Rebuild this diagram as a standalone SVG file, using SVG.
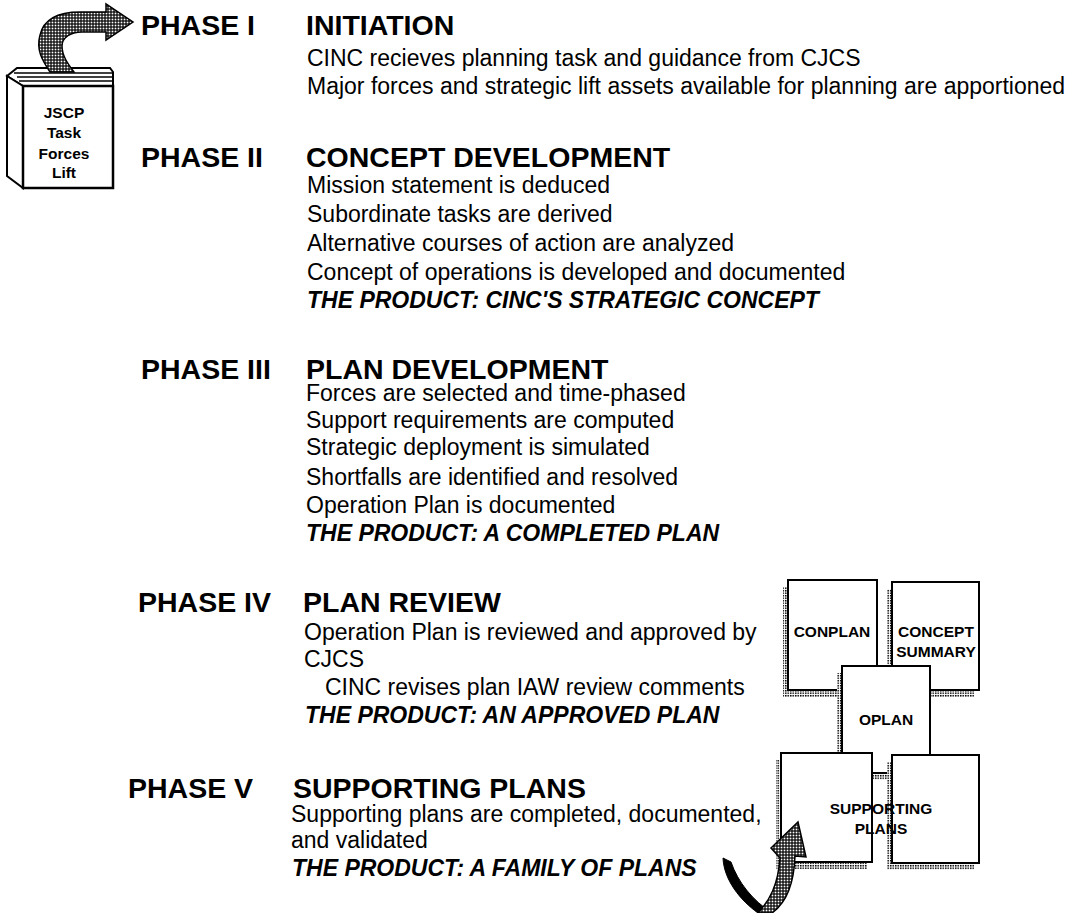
<svg xmlns="http://www.w3.org/2000/svg" width="1083" height="913" viewBox="0 0 1083 913">
<defs>
<pattern id="net" width="3" height="3" patternUnits="userSpaceOnUse"><rect width="3" height="3" fill="#000"/><rect x="0.6" y="0.6" width="1.8" height="1.8" fill="#fff"/></pattern>
<pattern id="dots" width="2.5" height="2.5" patternUnits="userSpaceOnUse"><rect width="2.5" height="2.5" fill="#fff"/><rect width="1.5" height="1.5" fill="#000"/></pattern>
</defs>
<style>
text{font-family:"Liberation Sans",Arial,Helvetica,sans-serif;fill:#000}
.ph{font-size:28.5px;font-weight:bold}
.tt{font-size:28.5px;font-weight:bold}
.bd{font-size:23px}
.pr{font-size:23px;font-weight:bold;font-style:italic}
.bx{font-size:15.5px;font-weight:bold;text-anchor:middle}
.bk{font-size:15.5px;font-weight:bold;text-anchor:middle}
.doc{fill:#fff;stroke:#000;stroke-width:2}
.sh{fill:url(#dots)}
.ln{fill:none;stroke:#000;stroke-width:1.5}
</style>
<rect width="1083" height="913" fill="#fff"/>

<g id="book">
<polygon points="7,76 17,68 110,68 113,72 113,86 23,86" fill="#fff" stroke="#000" stroke-width="2"/>
<line class="ln" x1="14" y1="73" x2="112" y2="73"/>
<line class="ln" x1="17" y1="77" x2="112" y2="77"/>
<line class="ln" x1="19" y1="81" x2="112" y2="81"/>
<polygon points="7,76 23,86 23,188 7,176" fill="#fff" stroke="#000" stroke-width="2"/>
<rect x="23" y="86" width="90" height="102" fill="#fff" stroke="#000" stroke-width="2.5"/>
<text class="bk" x="64" y="118">JSCP</text>
<text class="bk" x="64" y="138">Task</text>
<text class="bk" x="64" y="159">Forces</text>
<text class="bk" x="64" y="178">Lift</text>
</g>

<g id="phase-1">
<text class="ph" x="141" y="35">PHASE I</text>
<text class="tt" x="306" y="35">INITIATION</text>
<text class="bd" x="307" y="66">CINC recieves planning task and guidance from CJCS</text>
<text class="bd" x="307" y="94">Major forces and strategic lift assets available for planning are apportioned</text>
</g>

<g id="phase-2">
<text class="ph" x="141" y="167">PHASE II</text>
<text class="tt" x="306" y="167">CONCEPT DEVELOPMENT</text>
<text class="bd" x="307" y="193">Mission statement is deduced</text>
<text class="bd" x="307" y="222">Subordinate tasks are derived</text>
<text class="bd" x="307" y="251">Alternative courses of action are analyzed</text>
<text class="bd" x="307" y="280">Concept of operations is developed and documented</text>
<text class="pr" x="307" y="308">THE PRODUCT: CINC'S STRATEGIC CONCEPT</text>
</g>

<g id="phase-3">
<text class="ph" x="141" y="379">PHASE III</text>
<text class="tt" x="306" y="379">PLAN DEVELOPMENT</text>
<text class="bd" x="306" y="401">Forces are selected and time-phased</text>
<text class="bd" x="306" y="428">Support requirements are computed</text>
<text class="bd" x="306" y="455">Strategic deployment is simulated</text>
<text class="bd" x="306" y="485">Shortfalls are identified and resolved</text>
<text class="bd" x="306" y="513">Operation Plan is documented</text>
<text class="pr" x="306" y="541">THE PRODUCT: A COMPLETED PLAN</text>
</g>

<g id="phase-4">
<text class="ph" x="138" y="612">PHASE IV</text>
<text class="tt" x="303" y="612">PLAN REVIEW</text>
<text class="bd" x="304" y="640">Operation Plan is reviewed and approved by</text>
<text class="bd" x="304" y="667">CJCS</text>
<text class="bd" x="325" y="695">CINC revises plan IAW review comments</text>
<text class="pr" x="305" y="723">THE PRODUCT: AN APPROVED PLAN</text>
</g>

<g id="phase-5">
<text class="ph" x="128" y="798">PHASE V</text>
<text class="tt" x="293" y="798">SUPPORTING PLANS</text>
<text class="bd" x="291" y="822">Supporting plans are completed, documented,</text>
<text class="bd" x="291" y="848">and validated</text>
<text class="pr" x="292" y="876">THE PRODUCT: A FAMILY OF PLANS</text>
</g>

<g id="doc-conplan">
<rect class="sh" x="783" y="587" width="89" height="110"/>
<rect class="doc" x="788" y="580" width="89" height="110"/>
</g>
<g id="doc-concept-summary">
<rect class="sh" x="887" y="589" width="87" height="108"/>
<rect class="doc" x="892" y="582" width="87" height="108"/>
</g>
<g id="doc-oplan">
<rect class="sh" x="837" y="673" width="88" height="107"/>
<rect class="doc" x="842" y="666" width="88" height="107"/>
</g>
<g id="doc-supporting-left">
<rect class="sh" x="776" y="760" width="91" height="109"/>
<rect class="doc" x="781" y="753" width="91" height="109"/>
</g>
<g id="doc-supporting-right">
<rect class="sh" x="887" y="762" width="87" height="108"/>
<rect class="doc" x="892" y="755" width="87" height="108"/>
</g>
<g id="doc-labels">
<text class="bx" x="832" y="637">CONPLAN</text>
<text class="bx" x="936" y="637">CONCEPT</text>
<text class="bx" x="936" y="657">SUMMARY</text>
<text class="bx" x="886" y="725">OPLAN</text>
<text class="bx" x="881" y="814">SUPPORTING</text>
<text class="bx" x="881" y="834">PLANS</text>
</g>

<g id="connectors">
<path d="M 50,72 C 42,60 36,50 40,35 C 44,18 60,12 80,12 L 106,12 L 106,4 L 133,22 L 106,40 L 106,32 L 82,32 C 70,32 62,38 62,46 C 62,56 68,64 74,72 Z" fill="url(#net)" stroke="#000" stroke-width="1.5"/>
<path d="M 723,858 C 724,880 740,900 758,913 L 772,913 C 752,900 738,882 731,862 Z" fill="#000" stroke="#000" stroke-width="1"/>
<path d="M 758,913 C 770,900 778,885 780,858 L 771,848 L 798,822 L 806,857 L 795,856 C 794,885 786,903 772,913 Z" fill="url(#net)" stroke="#000" stroke-width="1.5"/>
</g>
</svg>
